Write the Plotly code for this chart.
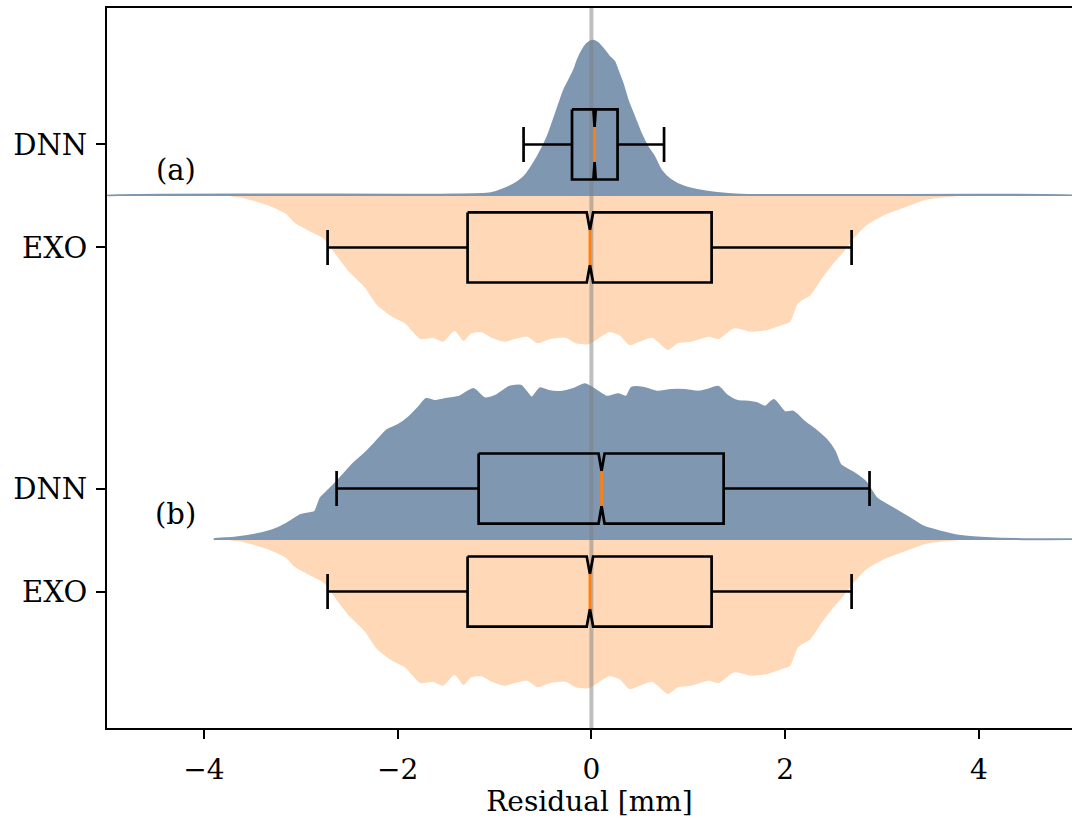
import plotly.graph_objects as go

# ---- violin outlines: residual [mm] and half-width of each half violin ----
dnn_a_res = [-5.0, -1.555, -1.038, -0.831, -0.694, -0.555, -0.452, -0.366, -0.281,
             -0.229, -0.178, -0.142, -0.091, -0.039, 0.012, 0.064, 0.132, 0.184,
             0.235, 0.270, 0.322, 0.374, 0.442, 0.511, 0.580, 0.648, 0.717, 0.821,
             0.958, 1.200, 1.543, 5.0]
dnn_a_width = [0.004, 0.013, 0.026, 0.097, 0.187, 0.382, 0.576, 0.803, 1.029,
               1.126, 1.223, 1.320, 1.417, 1.482, 1.508, 1.488, 1.417, 1.352,
               1.304, 1.223, 1.094, 0.932, 0.770, 0.607, 0.479, 0.382, 0.252, 0.155,
               0.090, 0.042, 0.013, 0.004]

dnn_b_res = [-3.888, -3.686, -3.457, -3.285, -3.141, -2.998, -2.854, -2.796, -2.711,
             -2.596, -2.453, -2.337, -2.222, -2.108, -1.993, -1.878, -1.792, -1.705,
             -1.620, -1.505, -1.362, -1.218, -1.103, -0.988, -0.844, -0.730, -0.615,
             -0.529, -0.443, -0.299, -0.184, -0.069, 0.017, 0.160, 0.275, 0.361,
             0.418, 0.533, 0.676, 0.821, 0.964, 1.108, 1.193, 1.308, 1.395, 1.509,
             1.624, 1.710, 1.796, 1.883, 1.997, 2.083, 2.199, 2.313, 2.428, 2.514,
             2.571, 2.715, 2.829, 2.944, 3.088, 3.289, 3.432, 3.605, 3.835, 4.122,
             4.581, 5.0]
dnn_b_width = [0.010, 0.022, 0.055, 0.097, 0.162, 0.243, 0.275, 0.405, 0.485,
               0.599, 0.745, 0.842, 0.954, 1.068, 1.117, 1.197, 1.279, 1.369,
               1.350, 1.369, 1.391, 1.466, 1.376, 1.401, 1.488, 1.498, 1.382,
               1.473, 1.447, 1.440, 1.466, 1.512, 1.473, 1.391, 1.415, 1.391,
               1.479, 1.479, 1.440, 1.456, 1.456, 1.440, 1.456, 1.488, 1.408, 1.350,
               1.343, 1.327, 1.294, 1.359, 1.240, 1.246, 1.149, 1.068, 0.971, 0.857,
               0.728, 0.648, 0.566, 0.405, 0.323, 0.211, 0.129, 0.081, 0.036, 0.017,
               0.007, 0.005]

exo_res = [-3.72, -3.610, -3.347, -3.162, -3.057, -2.899, -2.767, -2.661, -2.503,
           -2.345, -2.214, -2.056, -1.925, -1.846, -1.766, -1.636, -1.530, -1.413,
           -1.318, -1.240, -1.134, -1.029, -0.897, -0.792, -0.661, -0.555, -0.423,
           -0.265, -0.160, -0.028, 0.183, 0.288, 0.393, 0.499, 0.630, 0.788, 0.893,
           1.025, 1.210, 1.315, 1.473, 1.657, 1.815, 1.946, 2.052, 2.132, 2.263,
           2.368, 2.500, 2.605, 2.710, 2.842, 3.027, 3.210, 3.448, 3.684, 3.77]
exo_width = [0.002, 0.017, 0.087, 0.168, 0.265, 0.347, 0.411, 0.541, 0.735,
             0.881, 1.058, 1.172, 1.236, 1.317, 1.388, 1.376, 1.415, 1.311,
             1.408, 1.333, 1.323, 1.376, 1.415, 1.388, 1.366, 1.430, 1.388,
             1.376, 1.430, 1.440, 1.323, 1.350, 1.447, 1.415, 1.376, 1.495, 1.430,
             1.415, 1.366, 1.388, 1.284, 1.317, 1.301, 1.259, 1.220, 1.042, 0.961,
             0.816, 0.653, 0.541, 0.411, 0.282, 0.184, 0.119, 0.039, 0.007, 0.002]

# ---- box statistics: lower whisker, Q1, median, Q3, upper whisker, notch half-width ----
dnn_a_box = [-0.70, -0.20, 0.033, 0.27, 0.75, 0.012]
dnn_b_box = [-2.630, -1.164, 0.105, 1.365, 2.871, 0.031]
exo_box = [-2.723, -1.278, -0.015, 1.241, 2.686, 0.033]

method_labels = ["DNN", "EXO", "DNN", "EXO"]
panel_labels = ["(a)", "(b)"]
x_ticks = [-4, -2, 0, 2, 4]

BLUE = "rgb(127,151,177)"
PEACH = "rgb(254,216,183)"
MEDIAN_COLOR = "#ff7f0e"
FONT = "DejaVu Serif"
FS = 29         # y tick labels and panel tags
FS_X = 28       # x tick labels and axis title

base_a, base_b = 3.34, 0.0      # shared baseline of each split-violin pair
offset = 0.5                    # box centre distance from the baseline
box_w = 0.68
y_lo, y_hi = -1.825, 5.165
x_lo, x_hi = -5.0, 4.961


def half_violin(xs, ws, base, sign, color, edge):
    x = [xs[0]] + list(xs) + [xs[-1]]
    y = [base] + [base + sign * w for w in ws] + [base]
    return go.Scatter(x=x, y=y, mode="lines", fill="toself", fillcolor=color,
                      line=dict(color=color, width=edge, shape="spline", smoothing=0.6),
                      hoverinfo="skip", showlegend=False)


def notched_box(stats, c):
    lo, q1, med, q3, hi, nh = stats
    h, q = box_w / 2, box_w / 4
    bx = [q1, med - nh, med, med + nh, q3, q3, med + nh, med, med - nh, q1, q1,
          None, q1, lo, None, lo, lo, None, q3, hi, None, hi, hi]
    by = [c + h, c + h, c + q, c + h, c + h, c - h, c - h, c - q, c - h, c - h, c + h,
          None, c, c, None, c - q, c + q, None, c, c, None, c - q, c + q]
    outline = go.Scatter(x=bx, y=by, mode="lines",
                         line=dict(color="black", width=2.7),
                         hoverinfo="skip", showlegend=False)
    median = go.Scatter(x=[med, med], y=[c - q, c + q], mode="lines",
                        line=dict(color=MEDIAN_COLOR, width=2.7),
                        hoverinfo="skip", showlegend=False)
    return [outline, median]


fig = go.Figure()

# EXO halves below each baseline, DNN halves above
fig.add_trace(half_violin(exo_res, exo_width, base_a, -1, PEACH, 0))
fig.add_trace(half_violin(exo_res, exo_width, base_b, -1, PEACH, 0))
fig.add_trace(half_violin(dnn_a_res, dnn_a_width, base_a, 1, BLUE, 2))
fig.add_trace(half_violin(dnn_b_res, dnn_b_width, base_b, 1, BLUE, 2))

# zero-residual reference line
fig.add_trace(go.Scatter(x=[0, 0], y=[y_lo, y_hi], mode="lines",
                         line=dict(color="rgba(128,128,128,0.5)", width=4),
                         hoverinfo="skip", showlegend=False))

for stats, c in [(dnn_a_box, base_a + offset), (exo_box, base_a - offset),
                 (dnn_b_box, base_b + offset), (exo_box, base_b - offset)]:
    for tr in notched_box(stats, c):
        fig.add_trace(tr)

for label, base in zip(panel_labels, [base_a, base_b]):
    fig.add_annotation(x=-4.29, y=base + 0.25, text=label, showarrow=False,
                       xanchor="center", yanchor="middle",
                       font=dict(family=FONT, size=FS, color="black"))

fig.update_layout(
    width=1072, height=818,
    margin=dict(l=107, r=0, t=8, b=90),
    paper_bgcolor="white", plot_bgcolor="white",
    font=dict(family=FONT, size=FS, color="black"),
    xaxis=dict(range=[x_lo, x_hi], showgrid=False, zeroline=False,
               showline=True, linecolor="black", linewidth=2, mirror=True,
               ticks="outside", ticklen=9, tickwidth=2, tickcolor="black",
               ticklabelstandoff=6,
               tickvals=x_ticks,
               ticktext=[str(v).replace("-", "\u2212") for v in x_ticks],
               tickfont=dict(family=FONT, size=FS_X),
               title=dict(text="Residual [mm]", standoff=5,
                          font=dict(family=FONT, size=FS_X))),
    yaxis=dict(range=[y_lo, y_hi], showgrid=False, zeroline=False,
               showline=True, linecolor="black", linewidth=2,
               ticks="outside", ticklen=9, tickwidth=2, tickcolor="black",
               ticklabelstandoff=3,
               tickvals=[base_a + offset, base_a - offset, base_b + offset, base_b - offset],
               ticktext=method_labels,
               tickfont=dict(family=FONT, size=FS)),
)

fig.write_html("out.html")
